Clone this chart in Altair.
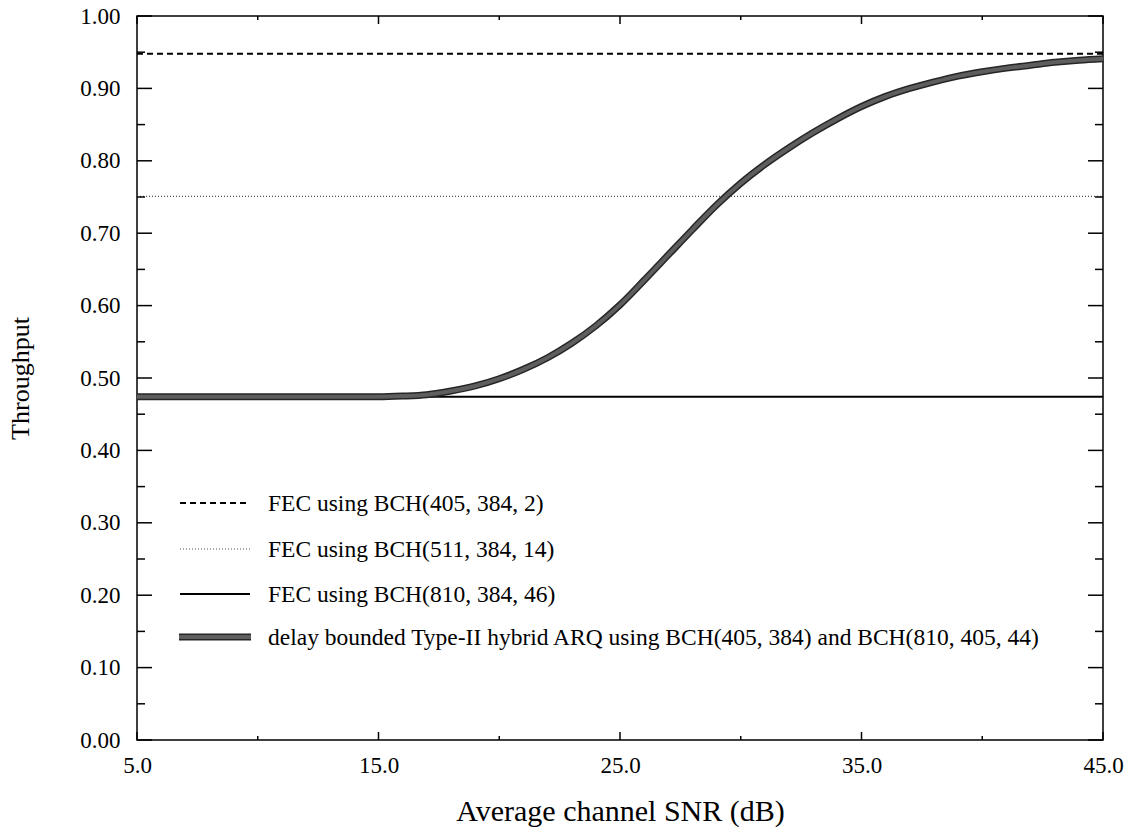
import altair as alt
import pandas as pd

# ---------------- data ----------------
snr_range = [5.0, 45.0]

fec_labels = [
    "FEC using BCH(405, 384, 2)",
    "FEC using BCH(511, 384, 14)",
    "FEC using BCH(810, 384, 46)",
]
fec_rates = [0.948, 0.751, 0.474]

arq_label = "delay bounded Type-II hybrid ARQ using BCH(405, 384) and BCH(810, 405, 44)"
arq_snr = [5, 8, 11, 14, 15, 16, 17, 18, 19, 20, 21, 22, 23, 24, 25, 26, 27, 28, 29,
           30, 31, 32, 33, 34, 35, 36, 37, 38, 39, 40, 41, 42, 43, 44, 45]
arq_thr = [0.474, 0.474, 0.474, 0.474, 0.474, 0.475, 0.477, 0.482, 0.489, 0.499,
           0.512, 0.528, 0.548, 0.572, 0.601, 0.635, 0.670, 0.705, 0.739, 0.769,
           0.795, 0.818, 0.839, 0.858, 0.875, 0.889, 0.900, 0.909, 0.917, 0.923,
           0.928, 0.932, 0.936, 0.939, 0.941]

x_major = [5, 15, 25, 35, 45]
x_minor = [10, 20, 30, 40]
y_major = [0.0, 0.1, 0.2, 0.3, 0.4, 0.5, 0.6, 0.7, 0.8, 0.9, 1.0]
y_minor = [0.05, 0.15, 0.25, 0.35, 0.45, 0.55, 0.65, 0.75, 0.85, 0.95]

# ---------------- layout / style ----------------
W, H = 966, 724
FONT = "Liberation Serif"

xscale = alt.Scale(domain=snr_range, nice=False, zero=False)
yscale = alt.Scale(domain=[0, 1], nice=False)

xaxis = alt.Axis(
    values=x_major, format=".1f", ticks=False, domain=False, grid=False,
    labelFont=FONT, labelFontSize=23, labelColor="black", labelPadding=14,
    labelFlush=False, labelOverlap=False,
    title="Average channel SNR (dB)", titleFont=FONT, titleFontSize=30,
    titleFontWeight="normal", titleColor="black",
    titleX=W / 2, titleY=80, titleBaseline="alphabetic", titleAlign="center")
yaxis = alt.Axis(
    values=y_major, format=".2f", ticks=False, domain=False, grid=False,
    labelFont=FONT, labelFontSize=23, labelColor="black", labelPadding=17,
    labelFlush=False, labelOverlap=False,
    title="Throughput", titleFont=FONT, titleFontSize=26,
    titleFontWeight="normal", titleColor="black",
    titleX=-117, titleY=362, titleAngle=270, titleBaseline="middle",
    titleAlign="center")

def X(field):
    return alt.X(field, scale=xscale, axis=xaxis)

def Y(field):
    return alt.Y(field, scale=yscale, axis=yaxis)

fec_styles = [
    dict(color="black", strokeWidth=2, strokeDash=[6, 4]),
    dict(color="#505050", strokeWidth=1.2, strokeDash=[1, 2]),
    dict(color="black", strokeWidth=2),
]
arq_styles = [("#262626", 7), ("#5e5e5e", 4)]

layers = []

# FEC horizontal lines
for i, (lab, rate) in enumerate(zip(fec_labels, fec_rates)):
    df = pd.DataFrame({"snr": snr_range, "thr": [rate, rate], "series": lab})
    layers.append(alt.Chart(df).mark_line(**fec_styles[i]).encode(
        x=X("snr:Q"), y=Y("thr:Q")))

# ARQ curve (dark outline + gray core)
arq_df = pd.DataFrame({"snr": arq_snr, "thr": arq_thr})
for col, sw in arq_styles:
    layers.append(alt.Chart(arq_df).mark_line(
        color=col, strokeWidth=sw, interpolate="monotone").encode(
        x=X("snr:Q"), y=Y("thr:Q")))

# inward ticks on all four sides
def yticks(vals, length):
    d = pd.DataFrame({"thr": vals})
    left = alt.Chart(d).mark_rule(color="black", strokeWidth=1.5).encode(
        y=Y("thr:Q"), x=alt.value(0), x2=alt.value(length))
    right = alt.Chart(d).mark_rule(color="black", strokeWidth=1.5).encode(
        y=Y("thr:Q"), x=alt.value(W - length), x2=alt.value(W))
    return [left, right]

def xticks(vals, length):
    d = pd.DataFrame({"snr": vals})
    bottom = alt.Chart(d).mark_rule(color="black", strokeWidth=1.5).encode(
        x=X("snr:Q"), y=alt.value(H), y2=alt.value(H - length))
    top = alt.Chart(d).mark_rule(color="black", strokeWidth=1.5).encode(
        x=X("snr:Q"), y=alt.value(0), y2=alt.value(length))
    return [bottom, top]

layers += yticks(y_major, 15) + yticks(y_minor, 8)
layers += xticks(x_major, 8) + xticks(x_minor, 4)

# manual legend
legend_labels = fec_labels + [arq_label]
row_y = [487, 533, 578, 621]
one = pd.DataFrame({"k": [0]})
for i, lab in enumerate(legend_labels):
    if i < 3:
        layers.append(alt.Chart(one).mark_rule(**fec_styles[i]).encode(
            x=alt.value(43), x2=alt.value(113), y=alt.value(row_y[i])))
    else:
        for col, sw in arq_styles:
            layers.append(alt.Chart(one).mark_rule(color=col, strokeWidth=sw).encode(
                x=alt.value(42), x2=alt.value(114), y=alt.value(row_y[i])))
    layers.append(alt.Chart(pd.DataFrame({"label": [lab]})).mark_text(
        align="left", baseline="middle", font=FONT, fontSize=23.5, color="black").encode(
        x=alt.value(131), y=alt.value(row_y[i] + 1), text="label:N"))

chart = alt.layer(*layers).properties(
    width=W, height=H,
    background="white",
    autosize=alt.AutoSizeParams(type="none"),
    padding={"left": 137, "top": 16, "right": 21, "bottom": 88},
).configure_view(stroke="black", strokeWidth=1.5)

chart.save("out.html", embed_options={"renderer": "svg", "actions": False})
